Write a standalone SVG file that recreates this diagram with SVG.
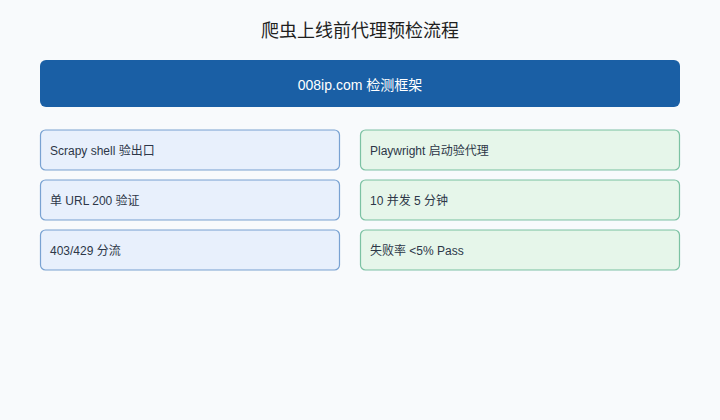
<svg xmlns="http://www.w3.org/2000/svg" width="720" height="420" viewBox="0 0 720 420">
<style>
text{font-family:"Liberation Sans","Noto Sans CJK SC",sans-serif;}
.title{font-size:18px;fill:#1f1f1f;}
.hdr{font-size:14px;fill:#ffffff;font-weight:400;}
.lbl{font-size:12px;fill:#2d3748;}
.bl{fill:#e8f0fc;stroke:#2a6bb5;stroke-opacity:0.6;stroke-width:1.2;}
.gr{fill:#e6f6ea;stroke:#2e9e6e;stroke-opacity:0.6;stroke-width:1.2;}
</style>
<rect width="720" height="420" fill="#f8fafc"/>
<text class="title" x="360" y="37" text-anchor="middle">爬虫上线前代理预检流程</text>
<g id="header">
<rect x="40" y="60" width="640" height="47" rx="6" fill="#1a5fa5"/>
<text class="hdr" x="360" y="90" text-anchor="middle">008ip.com 检测框架</text>
</g>
<g id="connectors"></g>
<g id="l1"><rect class="bl" x="40.5" y="130" width="299" height="40" rx="5"/><text class="lbl" x="50" y="155">Scrapy shell 验出口</text></g>
<g id="l2"><rect class="bl" x="40.5" y="180" width="299" height="40" rx="5"/><text class="lbl" x="50" y="205">单 URL 200 验证</text></g>
<g id="l3"><rect class="bl" x="40.5" y="230" width="299" height="40" rx="5"/><text class="lbl" x="50" y="255">403/429 分流</text></g>
<g id="r1"><rect class="gr" x="360.5" y="130" width="319" height="40" rx="5"/><text class="lbl" x="370" y="155">Playwright 启动验代理</text></g>
<g id="r2"><rect class="gr" x="360.5" y="180" width="319" height="40" rx="5"/><text class="lbl" x="370" y="205">10 并发 5 分钟</text></g>
<g id="r3"><rect class="gr" x="360.5" y="230" width="319" height="40" rx="5"/><text class="lbl" x="370" y="255">失败率 &lt;5% Pass</text></g>
</svg>
